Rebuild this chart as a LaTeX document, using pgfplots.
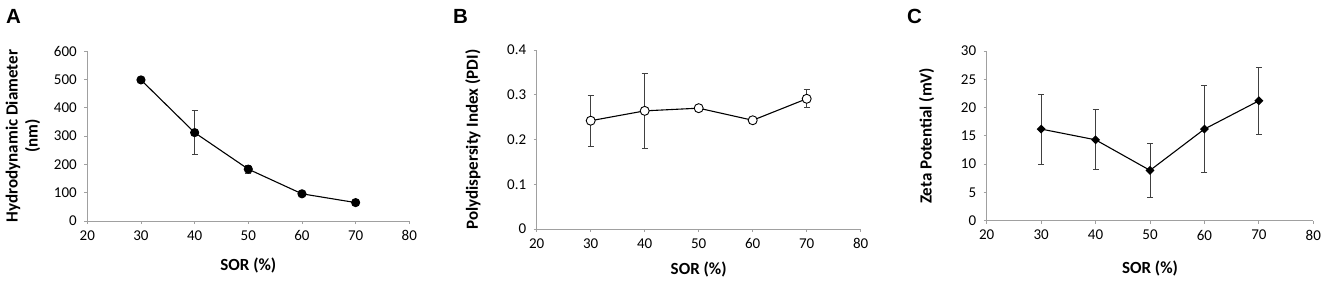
\documentclass[border=0pt]{standalone}
\usepackage{pgfplots}
\pgfplotsset{compat=1.18}
\usepackage{fontspec}
\setmainfont{Carlito}
\newfontfamily\panelfont{Liberation Sans}
\definecolor{axgray}{HTML}{A0A0A0}
\definecolor{errgray}{HTML}{404040}
\pgfplotsset{
  myaxis/.style={
    scale only axis,
    anchor=south west,
    xmin=20, xmax=80,
    xtick={20,30,...,80},
    axis x line*=bottom, axis y line*=left,
    axis line style={-, axgray, line width=0.9pt},
    tick style={axgray, line width=0.9pt},
    tick align=outside,
    major tick length=3pt,
    minor tick num=0,
    /pgf/number format/assume math mode=true,
    tick label style={font=\fontsize{15}{17}\selectfont, black},
    xticklabel style={yshift=-3pt},
    yticklabel style={xshift=-4pt},
    label style={font=\bfseries\fontsize{17}{20}\selectfont},
    clip=false,
  },
  myline/.style={black, line width=1.1pt},
  myerr/.style={
    draw=none, no markers, forget plot,
    error bars/.cd, y dir=both, y explicit,
    error bar style={errgray, line width=0.8pt},
    error mark options={rotate=90, mark size=3pt, errgray, line width=0.8pt},
  },
}
\begin{document}
\begin{tikzpicture}
\useasboundingbox (0,0) rectangle (1325pt,282pt);
% Panel labels
\node[anchor=north west, inner sep=0pt, font=\panelfont\bfseries\fontsize{20.5}{23}\selectfont] at (6pt,273pt) {A};
\node[anchor=north west, inner sep=0pt, font=\panelfont\bfseries\fontsize{20.5}{23}\selectfont] at (453pt,273pt) {B};
\node[anchor=north west, inner sep=0pt, font=\panelfont\bfseries\fontsize{20.5}{23}\selectfont] at (907pt,273pt) {C};

% Panel A
\begin{axis}[myaxis,
  at={(87.3pt,61pt)}, width=322pt, height=170pt,
  ymin=0, ymax=600, ytick={0,100,...,600},
  xlabel={SOR (\%)},
  xlabel style={at={(axis description cs:0.5,0)}, anchor=center, yshift=-44.6pt},
  ylabel={Hydrodynamic Diameter\\(nm)},
  ylabel style={align=center, at={(axis description cs:-0.1997,0.5)}, anchor=center},
]
\addplot[myline, mark=*, mark size=4pt, mark options={fill=black}] coordinates {
  (30,498) (40,312) (50,183) (60,96) (70,65)
};
\addplot[myerr] coordinates {
  (30,498) +- (0,5)
  (40,312) +- (0,78)
  (50,183) +- (0,15)
  (60,96) +- (0,4)
  (70,65) +- (0,3)
};
\end{axis}

% Panel B
\begin{axis}[myaxis,
  at={(536.7pt,53pt)}, width=324pt, height=179pt,
  ymin=0, ymax=0.4, ytick={0,0.1,...,0.4},
  yticklabel style={/pgf/number format/fixed, /pgf/number format/precision=1},
  xlabel={SOR (\%)},
  xlabel style={at={(axis description cs:0.5,0)}, anchor=center, yshift=-40pt},
  ylabel={Polydispersity Index (PDI)},
  ylabel style={at={(axis description cs:-0.1966,0.5)}, anchor=center},
]
\addplot[myline, mark=*, mark size=4.5pt, mark options={fill=white, draw=black, line width=0.9pt}] coordinates {
  (30,0.242) (40,0.264) (50,0.270) (60,0.243) (70,0.291)
};
\addplot[myerr] coordinates {
  (30,0.242) +- (0,0.057)
  (40,0.264) +- (0,0.083)
  (50,0.270) +- (0,0.002)
  (60,0.243) +- (0,0.005)
  (70,0.291) +- (0,0.020)
};
\end{axis}

% Panel C
\begin{axis}[myaxis,
  at={(986.7pt,61.3pt)}, width=326.6pt, height=169.7pt,
  ymin=0, ymax=30, ytick={0,5,...,30},
  xlabel={SOR (\%)},
  xlabel style={at={(axis description cs:0.5,0)}, anchor=center, yshift=-47.3pt},
  ylabel={Zeta Potential (mV)},
  ylabel style={at={(axis description cs:-0.1837,0.5)}, anchor=center},
]
\addplot[myline, mark=square*, mark size=2.6pt, mark options={rotate=45, fill=black}] coordinates {
  (30,16.2) (40,14.3) (50,8.9) (60,16.2) (70,21.2)
};
\addplot[myerr] coordinates {
  (30,16.2) +- (0,6.2)
  (40,14.3) +- (0,5.3)
  (50,8.9) +- (0,4.8)
  (60,16.2) +- (0,7.7)
  (70,21.2) +- (0,5.9)
};
\end{axis}
\end{tikzpicture}
\end{document}
